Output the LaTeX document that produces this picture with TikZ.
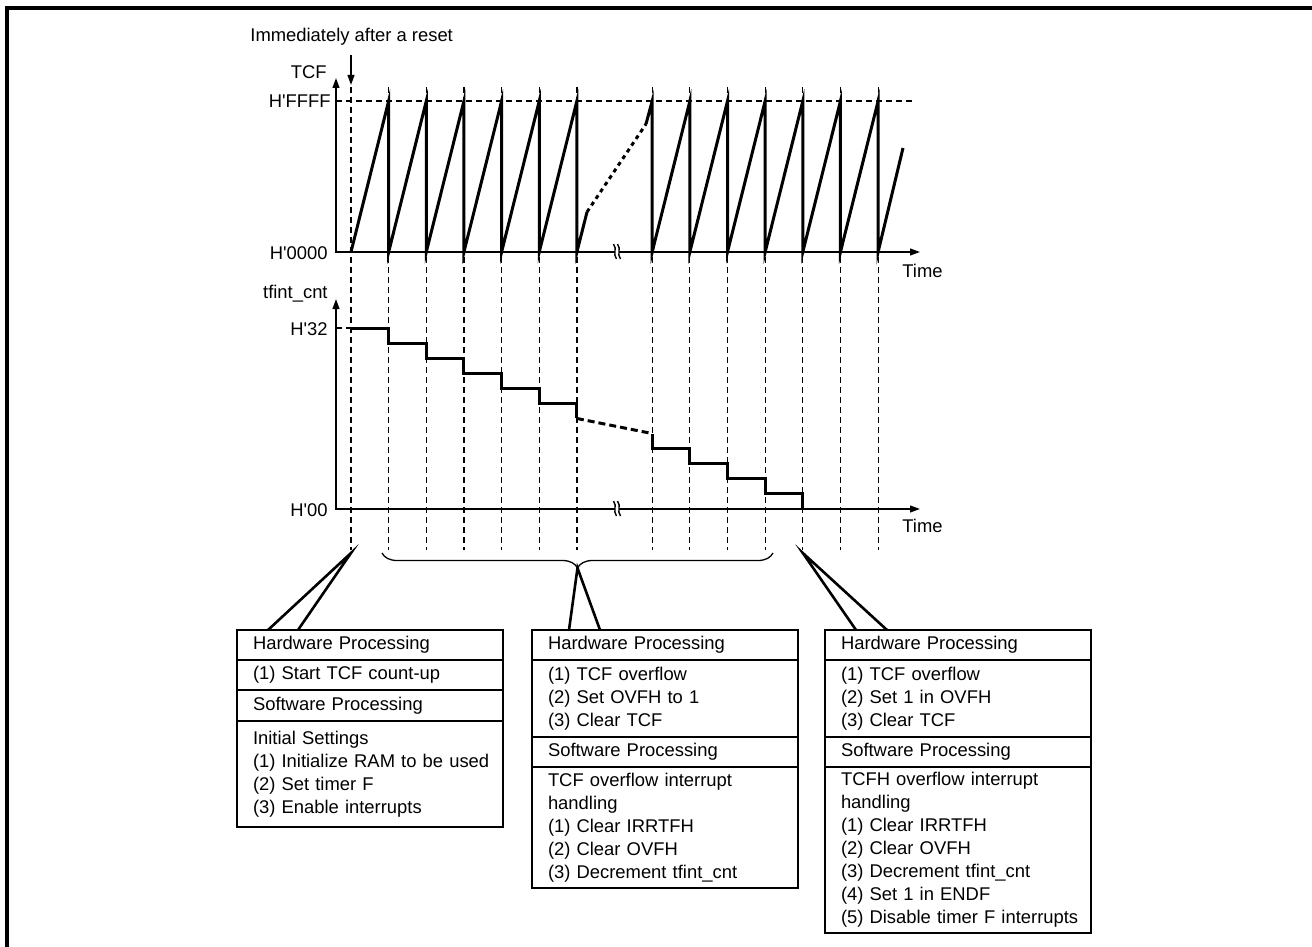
\documentclass[tikz,border=0pt]{standalone}
\usepackage{fontspec}
\setmainfont{Liberation Sans}
\usepackage{tikz}
\usetikzlibrary{arrows.meta, calc, decorations.pathreplacing, positioning}
\definecolor{inkclr}{RGB}{0, 0, 0}
\newcommand{\hq}{\textquotesingle}

\begin{document}
\begin{tikzpicture}[x=0.5pt, y=-0.5pt, font=\fontsize{9.2}{11.5}\selectfont,
  axis/.style={inkclr, line width=0.85pt, {Triangle[length=5pt,width=3.4pt]}-{Triangle[length=5pt,width=3.4pt]}},
  guide/.style={inkclr, line width=0.6pt, dash pattern=on 3pt off 2pt},
  wave/.style={inkclr, line width=1.5pt, line join=miter},
  lbl/.style={inner sep=0pt},
  cell/.style={draw=inkclr, line width=1.15pt, outer sep=0pt, inner xsep=4pt, inner ysep=2pt,
    text width=125pt, align=left, anchor=north west,
    execute at begin node={\leftskip=4pt\hyphenpenalty=10000}},
  callout/.style={inkclr, line width=1.3pt, line join=miter}]
  \useasboundingbox (0,0) rectangle (1312,947);
  % frame
  \draw[inkclr, line width=1.75pt] (1312,8) -- (7,8) -- (7,947);
  \def\xo{351} \def\dx{37.65}
  \def\ytop{101} \def\ybot{252}
  \def\ylev{328} \def\dy{15.08}
  % guide lines
  \foreach \k in {0,1,2,3,4,5,6,8,9,10,11,12,13,14}
    \draw[guide] ({\xo+\k*\dx},87) -- ({\xo+\k*\dx},550);
  \draw[guide] (336,\ytop) -- (912,\ytop);
  \draw[guide] (336,\ylev) -- (\xo,\ylev);
  % axes
  \draw[axis] (336,78) -- (336,\ybot) -- (920,\ybot);
  \draw[axis] (336,299) -- (336,509) -- (920,509);
  % axis breaks
  \foreach \yb in {\ybot,509} {
    \fill[white] (615,\yb-3) rectangle (619,\yb+3);
    \foreach \bx in {615,619}
      \draw[inkclr, line width=0.7pt] (\bx-1.5,\yb-8) .. controls (\bx+2.5,\yb-3) and (\bx-2.5,\yb+2) .. (\bx+1.5,\yb+7);
  }
  % reset arrow
  \draw[inkclr, line width=0.85pt, -{Triangle[length=5pt,width=3.4pt]}] (\xo,55) -- (\xo,85);
  % TCF count
  \draw[wave] (\xo,\ybot) \foreach \k in {1,...,6} { -- ({\xo+\k*\dx},\ytop) -- ({\xo+\k*\dx},\ybot) } -- (587,212);
  \draw[wave, line join=round, dash pattern=on 2pt off 2pt] (587,212) -- (646,124);
  \draw[wave] (646,124) -- ({\xo+8*\dx},\ytop) -- ({\xo+8*\dx},\ybot)
    \foreach \k in {9,...,14} { -- ({\xo+\k*\dx},\ytop) -- ({\xo+\k*\dx},\ybot) } -- (903,148);
  % tfint_cnt count
  \draw[wave] (\xo,\ylev) \foreach \k in {1,...,6} { -- ({\xo+\k*\dx},{\ylev+(\k-1)*\dy}) -- ({\xo+\k*\dx},{\ylev+\k*\dy}) };
  \draw[wave, dash pattern=on 3.5pt off 2pt] ({\xo+6*\dx},{\ylev+6*\dy}) -- ({\xo+8*\dx},{\ylev+7*\dy});
  \draw[wave] ({\xo+8*\dx},{\ylev+7*\dy}) -- ({\xo+8*\dx},{\ylev+8*\dy})
    \foreach \k in {9,...,12} { -- ({\xo+\k*\dx},{\ylev+(\k-1)*\dy}) -- ({\xo+\k*\dx},{\ylev+\k*\dy}) };
  % labels
  \node[lbl, anchor=base west] (reset) at (250,42) {Immediately after a reset};
  \node[lbl, anchor=base east] (tcf) at (327,79) {TCF};
  \node[lbl, anchor=base east] (hffff) at (331,108) {H\hq FFFF};
  \node[lbl, anchor=base east] (h0000) at (328,259) {H\hq 0000};
  \node[lbl, anchor=base west] (time1) at (902,277) {Time};
  \node[lbl, anchor=base east] (cnt) at (328,298) {tfint\_cnt};
  \node[lbl, anchor=base east] (h32) at (328,335) {H\hq 32};
  \node[lbl, anchor=base east] (h00) at (328,516) {H\hq 00};
  \node[lbl, anchor=base west] (time2) at (902,532) {Time};
  % brace
  \draw[inkclr, line width=0.65pt, decorate, decoration={brace, mirror, amplitude=7.5pt}] (382,553) -- (773,553);
  \coordinate (rst) at (\xo,553);
  \coordinate (brtip) at (577.5,568);
  \coordinate (endp) at ({\xo+12*\dx},553);
  % box: reset
  \node[cell, minimum height=15pt] (hwA) at (237,630) {Hardware Processing};
  \node[cell, minimum height=15pt, below=0pt of hwA] (hwAi) {(1) Start TCF count-up};
  \node[cell, minimum height=15.5pt, below=0pt of hwAi] (swA) {Software Processing};
  \node[cell, minimum height=53pt, below=0pt of swA] (swAi) {Initial Settings\\(1) Initialize RAM to be used\\(2) Set timer F\\(3) Enable interrupts};
  % box: overflow
  \node[cell, minimum height=15pt] (hwB) at (532,630) {Hardware Processing};
  \node[cell, minimum height=38.5pt, below=0pt of hwB] (hwBi) {(1) TCF overflow\\(2) Set OVFH to 1\\(3) Clear TCF};
  \node[cell, minimum height=15pt, below=0pt of hwBi] (swB) {Software Processing};
  \node[cell, minimum height=60.5pt, below=0pt of swB] (swBi) {TCF overflow interrupt\\handling\\(1) Clear IRRTFH\\(2) Clear OVFH\\(3) Decrement tfint\_cnt};
  % box: end
  \node[cell, minimum height=15pt] (hwC) at (825,630) {Hardware Processing};
  \node[cell, minimum height=38.5pt, below=0pt of hwC] (hwCi) {(1) TCF overflow\\(2) Set 1 in OVFH\\(3) Clear TCF};
  \node[cell, minimum height=15pt, below=0pt of hwCi] (swC) {Software Processing};
  \node[cell, minimum height=83pt, below=0pt of swC] (swCi) {TCFH overflow interrupt\\handling\\(1) Clear IRRTFH\\(2) Clear OVFH\\(3) Decrement tfint\_cnt\\(4) Set 1 in ENDF\\(5) Disable timer F interrupts};
  % callouts
  \draw[callout] ($(hwA.north west)+(31,0)$) -- (rst) -- ($(hwA.north west)+(61,0)$);
  \draw[callout] ($(hwB.north west)+(37,0)$) -- (brtip) -- ($(hwB.north west)+(68,0)$);
  \draw[callout] ($(hwC.north west)+(31,0)$) -- (endp) -- ($(hwC.north west)+(62,0)$);
\end{tikzpicture}
\end{document}
